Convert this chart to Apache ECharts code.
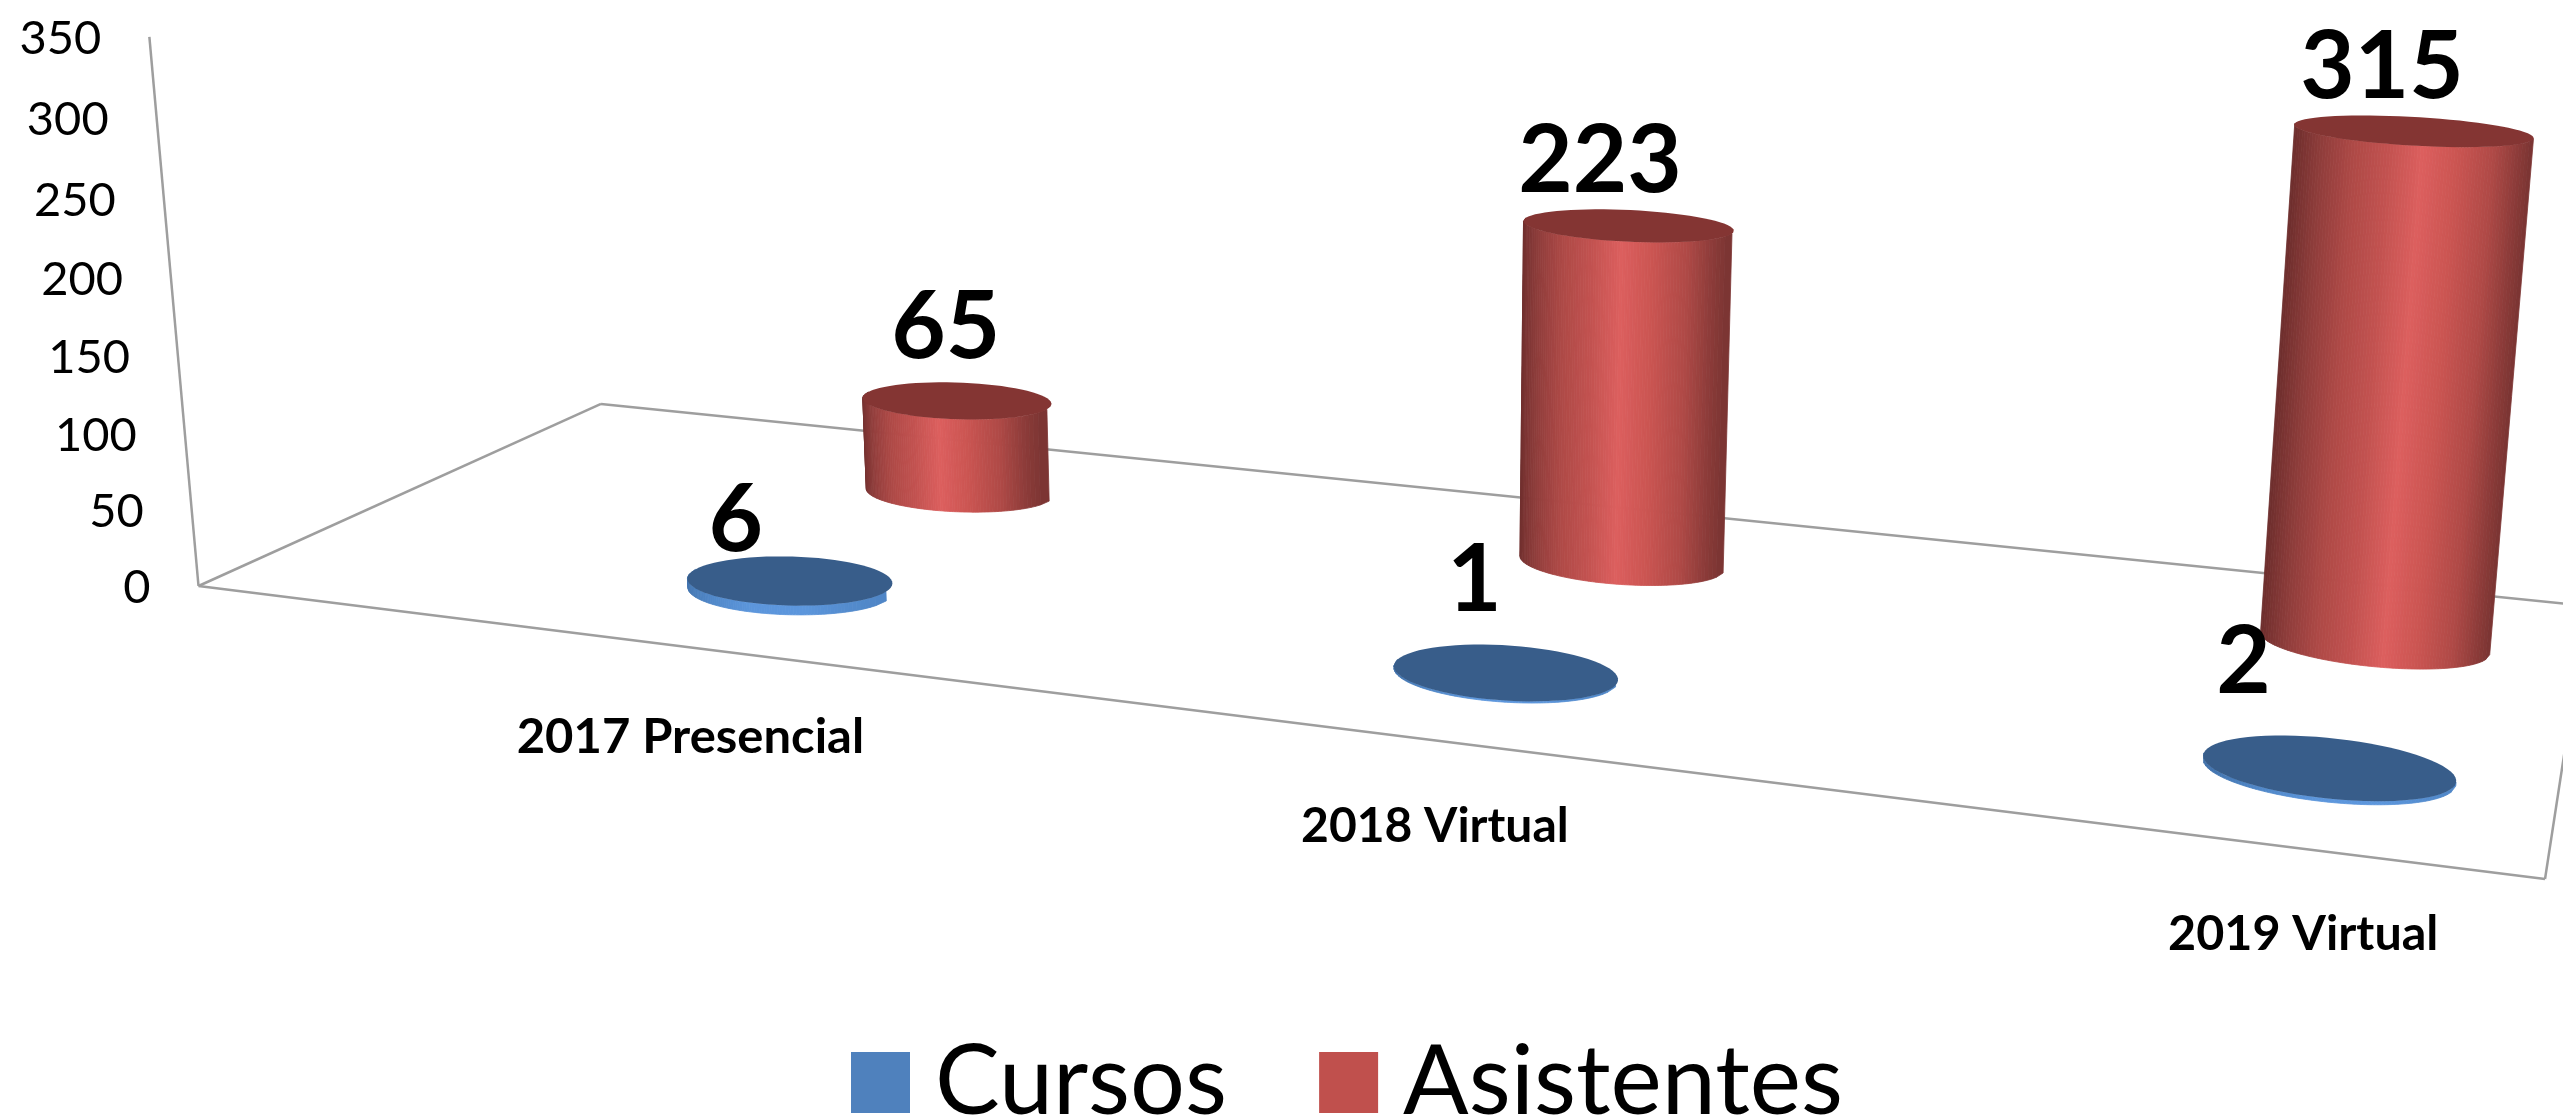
<!DOCTYPE html>
<html>
<head>
<meta charset="utf-8">
<title>Cursos y asistentes</title>
<script src="https://cdn.jsdelivr.net/npm/echarts@6/dist/echarts.min.js"></script>
<style>
  html, body { margin: 0; padding: 0; background: #fff; }
  #chart { width: 2563px; height: 1118px; }
</style>
</head>
<body>
<div id="chart"></div>
<script>
const categories = ['2017 Presencial', '2018 Virtual', '2019 Virtual']
const cursos = [6, 1, 2]
const asistentes = [65, 223, 315]
const yTicks = [0, 50, 100, 150, 200, 250, 300, 350]

// perspective of the floor and wall
const A = [1847.7, 120.7], B = [514.1, -107], C = [-55.1, -550.5], D = [198.5, 586]
const WU = -0.196, WV = 0.1857, WH = -0.04

const FONT = 'Lato, Carlito, "Noto Sans", sans-serif'
const AXIS_COLOR = '#9e9e9e'
const RED_SIDE = ['#6a2c2b', '#8f3d3b', '#ae4946', '#c25250', '#dc5f5e', '#ca5451', '#ae4946', '#7a3432']
const BLUE_SIDE = ['#3f6fa8', '#4f86c6', '#5c96dc', '#5c96dc', '#4f86c6']

// u along the categories, v into the depth, h up the wall (all 0..1)
const project = (u, v, h) => {
  const w = 1 + WU * u + WV * v + WH * h
  return [
    (A[0] * u + B[0] * v + C[0] * h + D[0]) / w,
    (A[1] * u + B[1] * v + C[1] * h + D[1]) / w
  ]
}

const toFloor = (params, api, cat, value) => {
  const sys = params.coordSys
  const p = api.coord([cat, value])
  return { u: (p[0] - sys.x) / sys.width, h: (sys.y + sys.height - p[1]) / sys.height }
}

const line = (a, b) => ({
  type: 'line',
  shape: { x1: a[0], y1: a[1], x2: b[0], y2: b[1] },
  style: { stroke: AXIS_COLOR, lineWidth: 2.5 }
})

const label = (text, pos, size, weight, align, scaleX) => ({
  type: 'text',
  x: pos[0],
  y: pos[1],
  scaleX: scaleX,
  z2: 50,
  style: {
    text: text,
    fontSize: size,
    fontWeight: weight,
    fontFamily: FONT,
    fill: '#000',
    align: align,
    verticalAlign: 'middle'
  }
})

const renderFrame = (params, api) => {
  const children = [
    line(project(0, 0, 0), project(0, 0, 1)),
    line(project(0, 0, 0), project(0, 1, 0)),
    line(project(0, 1, 0), project(1, 1, 0)),
    line(project(0, 0, 0), project(1, 0, 0)),
    line(project(1, 0, 0), project(1, 1, 0))
  ]
  yTicks.forEach(t => {
    const p = project(0, 0, toFloor(params, api, 0, t).h)
    children.push(label(String(t), [p[0] - 48, p[1] + 2], 47, 'normal', 'right', 1))
  })
  const catPos = [[0.3045, -0.29], [0.611, -0.26], [0.9245, -0.241]]
  const catScale = [1.02, 1.0, 1.01]
  categories.forEach((c, i) => {
    const p = project(catPos[i][0], catPos[i][1], 0)
    children.push(label(c, p, 48, 'bold', 'center', catScale[i]))
  })
  return { type: 'group', children: children }
}

const makeCylinder = (depth, uShift, rv, sideColors, topColor, labelShift) => (params, api) => {
  const cat = api.value(0)
  const value = api.value(1)
  const uC = toFloor(params, api, cat, value).u + uShift
  const h = toFloor(params, api, cat, value).h
  const ru = 0.0475
  const children = []

  const steps = 80
  for (let i = 0; i < steps; i++) {
    const pts = []
    const t0 = i / steps, t1 = (i + 1) / steps
    const cos0 = 2 * t0 - 1, cos1 = 2 * t1 - 1
    const sin0 = -Math.sqrt(1 - cos0 * cos0), sin1 = -Math.sqrt(1 - cos1 * cos1)
    pts.push(project(uC + ru * cos0, depth + rv * sin0, 0))
    pts.push(project(uC + ru * cos1, depth + rv * sin1, 0))
    pts.push(project(uC + ru * cos1, depth + rv * sin1, h))
    pts.push(project(uC + ru * cos0, depth + rv * sin0, h))
    const color = echarts.color.lerp((t0 + t1) / 2, sideColors)
    children.push({
      type: 'polygon',
      shape: { points: pts },
      style: { fill: color, stroke: color, lineWidth: 0.8 }
    })
  }

  const top = []
  for (let a = 0; a < 72; a++) {
    const th = a / 72 * Math.PI * 2
    top.push(project(uC + ru * Math.cos(th), depth + rv * Math.sin(th), h))
  }
  children.push({ type: 'polygon', shape: { points: top }, style: { fill: topColor } })

  const c = project(uC, depth, h)
  const shift = labelShift[cat]
  children.push(label(String(value), [c[0] + shift[0], c[1] + shift[1]], 94, 'bold', 'center', 1))
  return { type: 'group', children: children }
}

const chart = echarts.init(document.getElementById('chart'))
chart.setOption({
  animation: false,
  backgroundColor: '#fff',
  grid: { left: 0, right: 0, top: 0, bottom: 0 },
  xAxis: { type: 'category', data: categories, show: false },
  yAxis: { type: 'value', min: 0, max: 350, interval: 50, show: false },
  legend: {
    data: ['Cursos', 'Asistentes'],
    left: 846,
    top: 1029,
    icon: 'rect',
    itemWidth: 59,
    itemHeight: 61,
    itemGap: 92,
    textStyle: { fontFamily: FONT, fontSize: 97, color: '#000', padding: [0, 0, 0, 20] }
  },
  series: [
    {
      name: 'frame',
      type: 'custom',
      clip: false,
      silent: true,
      renderItem: renderFrame,
      data: [[0, 0]]
    },
    {
      name: 'Asistentes',
      type: 'custom',
      clip: false,
      itemStyle: { color: '#c0504d' },
      renderItem: makeCylinder(0.75, 0.0835, 0.098, RED_SIDE, '#843533', [[-11, -73], [-28, -64], [-31, -63]]),
      data: asistentes.map((v, i) => [i, v])
    },
    {
      name: 'Cursos',
      type: 'custom',
      clip: false,
      itemStyle: { color: '#4f81bd' },
      renderItem: makeCylinder(0.255, 0.082, 0.102, BLUE_SIDE, '#385d8a', [[-54, -60], [-31, -92], [-85, -105]]),
      data: cursos.map((v, i) => [i, v])
    }
  ]
})
</script>
</body>
</html>
